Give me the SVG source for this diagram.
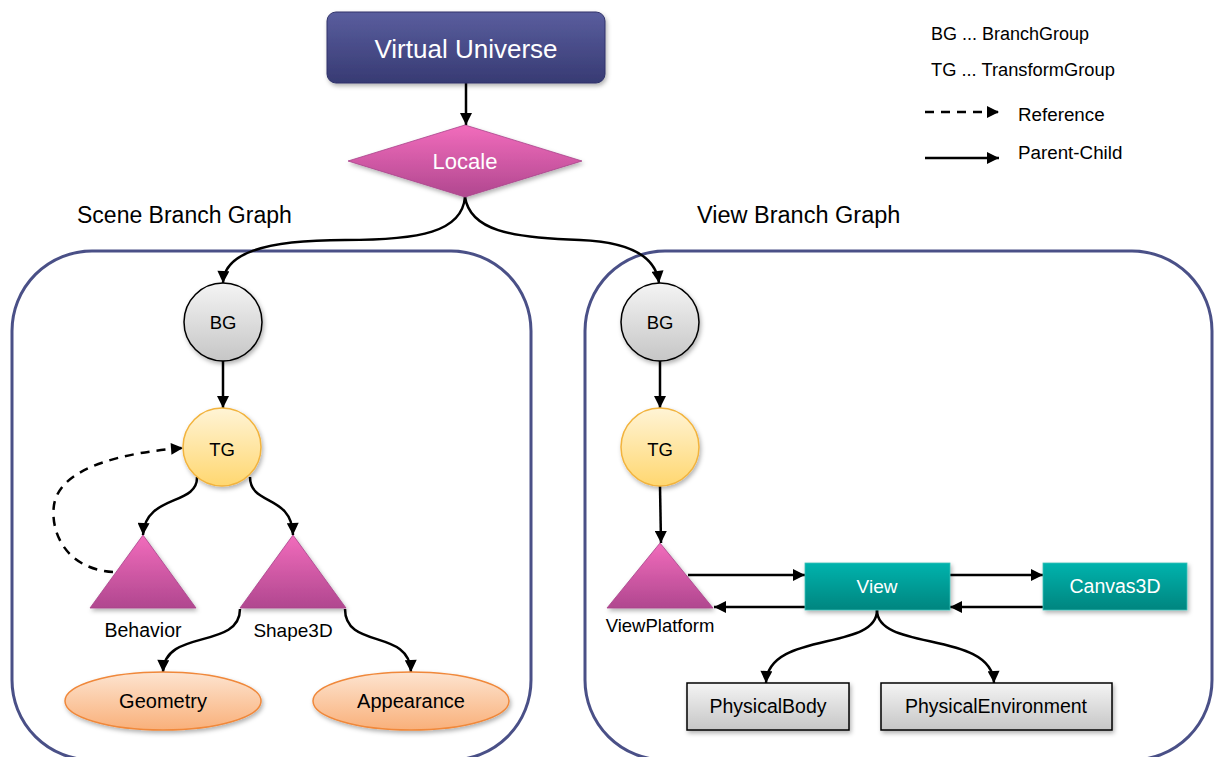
<svg xmlns="http://www.w3.org/2000/svg" width="1214" height="757" viewBox="0 0 1214 757">
<defs>
<linearGradient id="gVU" x1="0" y1="0" x2="0" y2="1"><stop offset="0" stop-color="#5a5e9e"/><stop offset="1" stop-color="#373a73"/></linearGradient>
<linearGradient id="gPink" x1="0" y1="0" x2="0" y2="1"><stop offset="0" stop-color="#f26cbc"/><stop offset="1" stop-color="#b0478f"/></linearGradient>
<linearGradient id="gGray" x1="0" y1="0" x2="0" y2="1"><stop offset="0" stop-color="#f4f4f4"/><stop offset="1" stop-color="#c6c6c6"/></linearGradient>
<linearGradient id="gYel" x1="0" y1="0" x2="0" y2="1"><stop offset="0" stop-color="#fff4d6"/><stop offset="1" stop-color="#ffd770"/></linearGradient>
<linearGradient id="gOr" x1="0" y1="0" x2="0" y2="1"><stop offset="0" stop-color="#fde4d0"/><stop offset="1" stop-color="#f9b07a"/></linearGradient>
<linearGradient id="gTeal" x1="0" y1="0" x2="0" y2="1"><stop offset="0" stop-color="#00b3ad"/><stop offset="1" stop-color="#00857f"/></linearGradient>
<filter id="sh" x="-20%" y="-20%" width="140%" height="150%"><feDropShadow dx="1.5" dy="2.5" stdDeviation="2" flood-color="#000" flood-opacity="0.3"/></filter>
<marker id="ah" viewBox="0 0 10 10" refX="10" refY="5" markerWidth="13" markerHeight="12" markerUnits="userSpaceOnUse" orient="auto"><path d="M0,0 L10,5 L0,10 z" fill="#000"/></marker>
<style>
.t{font-family:"Liberation Sans",Arial,sans-serif;fill:#000}
.w{fill:#fff}
.c{text-anchor:middle}
.cont{fill:none;stroke:#4a5087;stroke-width:3}
.ln{fill:none;stroke:#000;stroke-width:2.5;marker-end:url(#ah)}
.dash{stroke-dasharray:9 7}
.gray{fill:url(#gGray);stroke:#000;stroke-width:1.5}
.yel{fill:url(#gYel);stroke:#f2b33d;stroke-width:1.5}
.pink{fill:url(#gPink);stroke:#a8438a;stroke-width:0.8}
.orn{fill:url(#gOr);stroke:#f0883a;stroke-width:1.5}
.teal{fill:url(#gTeal);stroke:#3cc0b8;stroke-width:0.8}
</style>
</defs>
<rect width="1214" height="757" fill="#fff"/>

<g id="containers">
<rect class="cont" x="12" y="251" width="519" height="509" rx="80"/>
<rect class="cont" x="585" y="251" width="627" height="509" rx="80"/>
<text class="t" x="77" y="223" font-size="23">Scene Branch Graph</text>
<text class="t" x="697" y="223" font-size="23.5">View Branch Graph</text>
</g>

<g id="legend">
<text class="t" x="931" y="40" font-size="18">BG ... BranchGroup</text>
<text class="t" x="931" y="76" font-size="18.3">TG ... TransformGroup</text>
<line class="ln dash" x1="925" y1="112" x2="999" y2="112"/>
<text class="t" x="1018" y="121" font-size="18.8">Reference</text>
<line class="ln" x1="925" y1="158" x2="999" y2="158"/>
<text class="t" x="1018" y="159" font-size="18.8">Parent-Child</text>
</g>

<g id="connectors">
<line class="ln" x1="466" y1="83" x2="466" y2="125"/>
<path class="ln" d="M465,197 C462,232 420,240 345,240 C262,240 224,254 223,283"/>
<path class="ln" d="M465,197 C470,230 510,238 580,240 C632,242 656,258 659,283"/>
<line class="ln" x1="223" y1="361" x2="223" y2="408"/>
<path class="ln" d="M197,477 C198,506 145,494 143,535"/>
<path class="ln" d="M250,477 C250,506 292,494 293,535"/>
<path class="ln dash" d="M113,572 C66,569 50,532 54,505 C60,466 128,452 183,448"/>
<path class="ln" d="M240,609 C240,650 164,628 163,672"/>
<path class="ln" d="M345,609 C345,650 410,628 411,672"/>
<line class="ln" x1="660" y1="361" x2="660" y2="408"/>
<line class="ln" x1="660" y1="486" x2="661" y2="543"/>
<line class="ln" x1="688" y1="575" x2="805" y2="575"/>
<line class="ln" x1="805" y1="607" x2="714" y2="607"/>
<line class="ln" x1="950" y1="575" x2="1043" y2="575"/>
<line class="ln" x1="1043" y1="607" x2="950" y2="607"/>
<path class="ln" d="M877,610 C877,652 768,630 766,683"/>
<path class="ln" d="M877,610 C877,652 992,630 994,683"/>
</g>

<g id="virtual-universe">
<rect x="327" y="12" width="278" height="71" rx="9" fill="url(#gVU)" stroke="#30336a" stroke-width="1" filter="url(#sh)"/>
<text class="t w c" x="466" y="58" font-size="26">Virtual Universe</text>
</g>
<g id="locale">
<polygon class="pink" points="465,125 582,161 465,197 348,161" filter="url(#sh)"/>
<text class="t w c" x="465" y="169" font-size="22">Locale</text>
</g>

<g id="scene-bg">
<circle class="gray" cx="223" cy="322" r="39" filter="url(#sh)"/>
<text class="t c" x="223" y="329" font-size="18.5">BG</text>
</g>
<g id="scene-tg">
<circle class="yel" cx="222" cy="447" r="39" filter="url(#sh)"/>
<text class="t c" x="222" y="456" font-size="18.5">TG</text>
</g>
<g id="behavior">
<polygon class="pink" points="143,535 196,608 90,608" filter="url(#sh)"/>
<text class="t c" x="143" y="637" font-size="19.5">Behavior</text>
</g>
<g id="shape3d">
<polygon class="pink" points="293,535 346,608 240,608" filter="url(#sh)"/>
<text class="t c" x="293" y="637" font-size="19">Shape3D</text>
</g>
<g id="geometry">
<ellipse class="orn" cx="163" cy="701" rx="98" ry="29" filter="url(#sh)"/>
<text class="t c" x="163" y="708" font-size="20">Geometry</text>
</g>
<g id="appearance">
<ellipse class="orn" cx="411" cy="701" rx="98" ry="29" filter="url(#sh)"/>
<text class="t c" x="411" y="708" font-size="20">Appearance</text>
</g>

<g id="view-bg">
<circle class="gray" cx="660" cy="322" r="39" filter="url(#sh)"/>
<text class="t c" x="660" y="329" font-size="18.5">BG</text>
</g>
<g id="view-tg">
<circle class="yel" cx="660" cy="447" r="39" filter="url(#sh)"/>
<text class="t c" x="660" y="456" font-size="18.5">TG</text>
</g>
<g id="viewplatform">
<polygon class="pink" points="660,543 713,608 607,608" filter="url(#sh)"/>
<text class="t c" x="660" y="632" font-size="18.5">ViewPlatform</text>
</g>
<g id="view">
<rect class="teal" x="805" y="563" width="145" height="47" filter="url(#sh)"/>
<text class="t w c" x="877" y="593" font-size="19">View</text>
</g>
<g id="canvas3d">
<rect class="teal" x="1043" y="563" width="144" height="47" filter="url(#sh)"/>
<text class="t w c" x="1115" y="593" font-size="19.5">Canvas3D</text>
</g>
<g id="physicalbody">
<rect class="gray" x="687" y="683" width="162" height="47" filter="url(#sh)"/>
<text class="t c" x="768" y="713" font-size="19.5">PhysicalBody</text>
</g>
<g id="physicalenvironment">
<rect class="gray" x="881" y="683" width="231" height="47" filter="url(#sh)"/>
<text class="t c" x="996" y="713" font-size="19.5">PhysicalEnvironment</text>
</g>
</svg>
